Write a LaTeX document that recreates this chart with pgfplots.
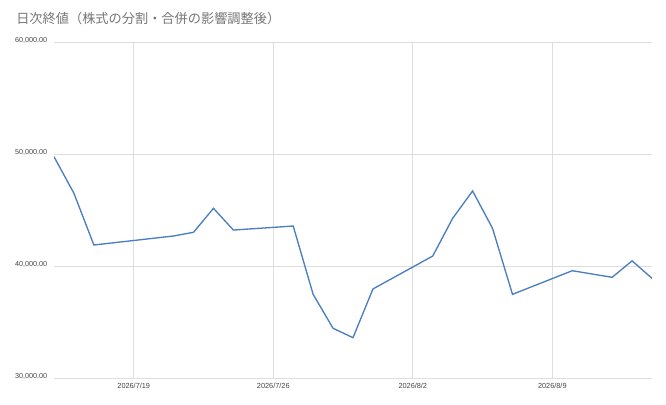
\documentclass[border=0pt]{standalone}
\usepackage{pgfplots}
\pgfplotsset{compat=1.18}
\usepackage{fontspec}
\setmainfont{Liberation Sans}
\newfontfamily\cjk{Noto Sans CJK JP}
\definecolor{lineblue}{HTML}{4A7EC1}
\definecolor{gridgray}{HTML}{DEDEDE}
\definecolor{titlegray}{HTML}{757575}
\definecolor{labelgray}{HTML}{444444}
\begin{document}
\begin{tikzpicture}
  % picture is 666x404 px, 1px = 0.75pt
  \path[use as bounding box] (0pt,0pt) rectangle (499.5pt,303pt);
  \node[anchor=north west, inner sep=0pt, text=titlegray,
        font=\cjk\fontsize{9.9}{12}\selectfont] at (12pt,294pt)
        {日次終値（株式の分割・合併の影響調整後）};
  \begin{axis}[
      at={(40.5pt,19.5pt)}, anchor=south west,
      scale only axis,
      width=448.5pt, height=252pt,
      xmin=-4, xmax=26,
      ymin=30000, ymax=60000,
      xtick={0,7,14,21},
      xticklabels={2026/7/19,2026/7/26,2026/8/2,2026/8/9},
      ytick={30000,40000,50000,60000},
      scaled y ticks=false,
      grid=major,
      major grid style={draw=gridgray, line width=0.6pt},
      axis line style={draw=none},
      tick style={draw=none},
      ticklabel style={text=labelgray},
      yticklabel style={font=\fontsize{5.4}{6}\selectfont, inner sep=1pt, xshift=-4pt, yshift=1pt},
      xticklabel style={font=\fontsize{5.5}{6}\selectfont},
      /pgf/number format/.cd, fixed, fixed zerofill, precision=2,
      1000 sep={,}, assume math mode=true,
    ]
    \addplot[color=lineblue, line width=1pt, mark=none] coordinates {
      (-4,49760) (-3,46490) (-2,41875) (2,42680) (3,43010) (4,45150)
      (5,43210) (8,43570) (9,37470) (10,34440) (11,33600) (12,37950)
      (15,40890) (16,44260) (17,46700) (18,43360) (19,37470)
      (22,39580) (24,38990) (25,40460) (26,38900)
    };
  \end{axis}
\end{tikzpicture}
\end{document}
